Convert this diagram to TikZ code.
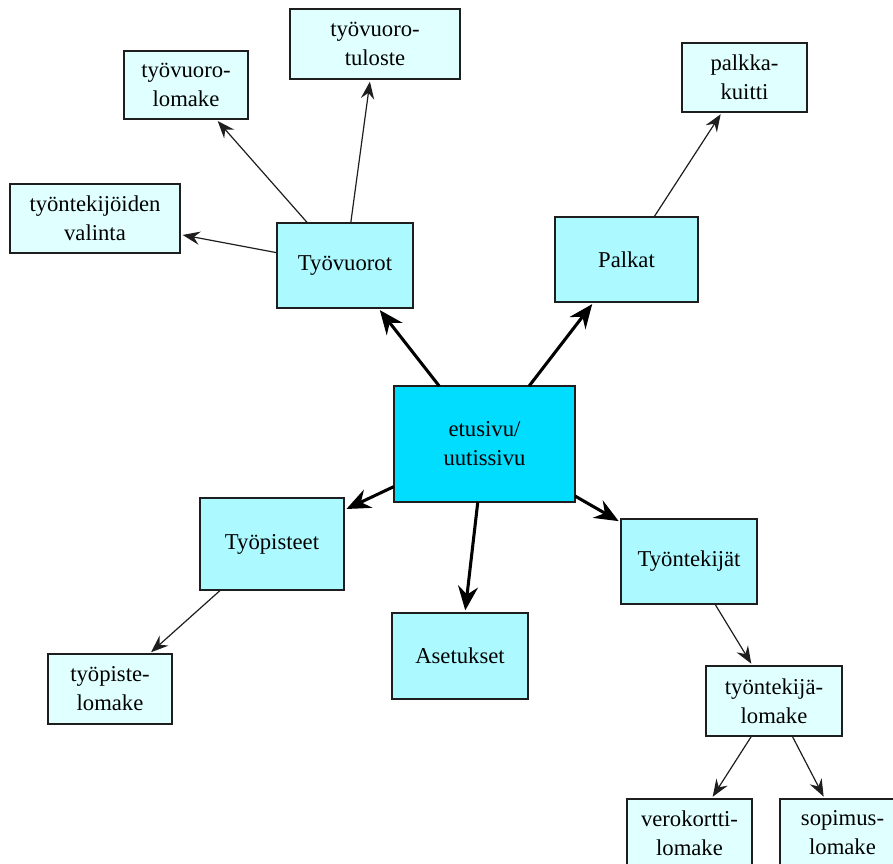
\documentclass[tikz,border=0pt]{standalone}
\usepackage{fontspec}
\setmainfont{Liberation Serif}
\usetikzlibrary{arrows.meta}
\definecolor{hubfill}{RGB}{0,221,255}
\definecolor{secfill}{RGB}{172,250,255}
\definecolor{leaffill}{RGB}{224,255,255}
\definecolor{edgeline}{RGB}{30,30,30}
\tikzset{
  box/.style 2 args={draw=edgeline, line width=1.1pt, inner sep=0pt, outer sep=0pt,
    align=center, minimum width={#1*0.75pt}, minimum height={#2*0.75pt},
    font=\rmfamily\fontsize{17}{21.75}\selectfont},
  hub/.style={fill=hubfill},
  section/.style={fill=secfill},
  leaf/.style={fill=leaffill},
  thinlink/.style={draw=edgeline, line width=0.9pt, shorten >=2pt,
    arrows={-Stealth[length=13pt, width=10pt, inset=4.5pt]}},
  thicklink/.style={draw=black, line width=2.3pt, shorten >=2pt,
    arrows={-Stealth[length=18pt, width=15pt, inset=6pt]}}
}
\begin{document}
\begin{tikzpicture}[x={(0.75pt,0)}, y={(0,-0.75pt)}]
\useasboundingbox (0,0) rectangle (893,864);

% main page
\node[box={181}{116}, hub] (main) at (484.5,444) {etusivu/\\uutissivu};

% sections
\node[box={136}{85}, section] (vuorot) at (345,265.5) {Työvuorot};
\node[box={143}{85}, section] (palkat) at (626.5,259.5) {Palkat};
\node[box={144}{92}, section] (pisteet) at (272,544) {Työpisteet};
\node[box={136}{86}, section] (asetukset) at (460,656) {Asetukset};
\node[box={136}{85}, section] (tekijat) at (689,561.5) {Työntekijät};

% forms and sub-pages
\node[box={124}{68}, leaf] (vlomake) at (186,85) {työvuoro-\\lomake};
\node[box={170}{70}, leaf] (tuloste) at (375,44) {työvuoro-\\tuloste};
\node[box={125}{69}, leaf] (kuitti) at (744.5,77.5) {palkka-\\kuitti};
\node[box={170}{69}, leaf] (valinta) at (95,218.5) {työntekijöiden\\valinta};
\node[box={124}{70}, leaf] (plomake) at (110,689) {työpiste-\\lomake};
\node[box={136}{70}, leaf] (tlomake) at (774,701) {työntekijä-\\lomake};
\node[box={125}{68}, leaf] (vero) at (689.5,833) {verokortti-\\lomake};
\node[box={125}{68}, leaf] (sopimus) at (842.5,833) {sopimus-\\lomake};

% links from the main page
\draw[thicklink] (main) -- (vuorot);
\draw[thicklink] (main) -- (palkat);
\draw[thicklink] (main) -- (pisteet);
\draw[thicklink] (main) -- (asetukset);
\draw[thicklink] (main) -- (tekijat);

% links from the sections
\draw[thinlink] (vuorot) -- (vlomake);
\draw[thinlink] (vuorot) -- (tuloste);
\draw[thinlink] (vuorot) -- (valinta);
\draw[thinlink] (palkat) -- (kuitti);
\draw[thinlink] (pisteet) -- (plomake);
\draw[thinlink] (tekijat) -- (tlomake);
\draw[thinlink] (tlomake) -- (vero);
\draw[thinlink] (tlomake) -- (sopimus);
\end{tikzpicture}
\end{document}
